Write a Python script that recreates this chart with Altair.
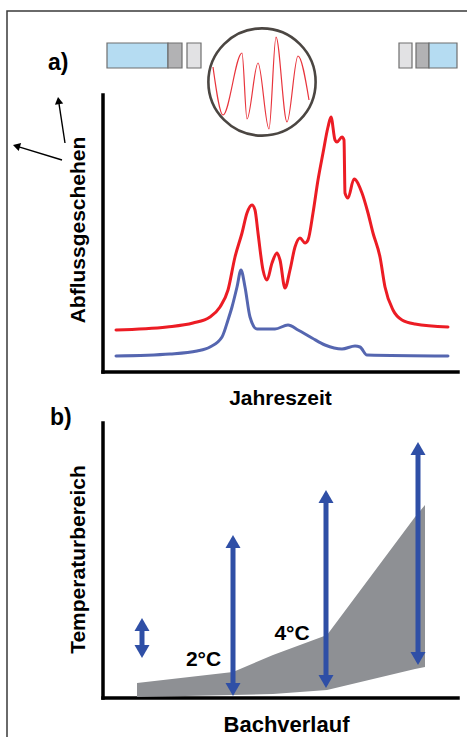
import altair as alt
import pandas as pd

# ---------------- data: panel a) Abflussgeschehen über die Jahreszeit ----------------
red_t = [13, 64, 90, 107, 117, 125, 132, 139, 144, 149, 152, 155, 160, 164, 169, 174, 177, 182,
         187, 192, 197, 202, 205, 210, 215, 220, 225, 228, 232, 234, 239, 241, 242, 245, 251, 259,
         265, 270, 277, 282, 290, 299, 312, 345]
red_q = [42, 45, 49, 55, 65, 82, 115, 139, 159, 167, 162, 139, 102, 92, 109, 119, 112, 84,
         102, 125, 134, 129, 132, 159, 192, 219, 245, 255, 232, 230, 235, 232, 179, 174, 193, 179,
         159, 139, 115, 85, 62, 52, 48, 45]
blue_t = [13, 67, 94, 107, 119, 125, 129, 134, 138, 142, 147, 154, 172, 185, 195, 209, 222, 239,
          252, 257, 264, 345]
blue_q = [16, 18, 21, 25, 35, 52, 65, 85, 102, 85, 55, 43, 43, 47, 42, 34, 27, 23,
          26, 25, 17, 16]
# short-term fluctuation shown in the magnifier circle
osc_t = [110, 120, 139, 144, 155, 166, 173, 184, 195, 206]
osc_q = [305, 257, 319, 253, 309, 243, 335, 250, 316, 272]
# schematic channel cross-sections (start / end of the year)
box_x0 = [4, 65, 84, 296, 313, 326]
box_x1 = [65, 79, 98, 309, 326, 354]
box_kind = ["Wasser", "Ufer", "Rand", "Rand", "Ufer", "Wasser"]
box_lo = [304] * 6
box_hi = [329] * 6
# pointer arrows near the y-axis title
arw_tail_t = [-38, -41]
arw_tail_q = [229, 212]
arw_tip_t = [-45, -90]
arw_tip_q = [275, 227]

# ---------------- data: panel b) Temperaturbereich entlang des Bachverlaufs ----------------
band_x = [34, 130, 170, 224, 312, 322]
band_lo = [1, 3, 4, 8, 29, 31]
band_hi = [15, 26, 43, 63, 181, 193]
span_x = [39, 130, 223, 315]
span_lo = [40, 2, 10, 33]
span_hi = [80, 163, 208, 256]
deg_text = ["2°C", "4°C"]
deg_x = [100.5, 189]
deg_y = [32, 58]

RED = "#ec1c24"
BLUE_LINE = "#5566b0"
ARROW_BLUE = "#2f4fa6"
GRAY = "#8e9094"
FONT = "Liberation Sans"

X = alt.Scale(domain=[0, 355], range=[103, 458], nice=False, zero=False)
YA = alt.Scale(domain=[0, 277], range=[372, 95], nice=False, zero=False)
YB = alt.Scale(domain=[0, 275], range=[698, 423], nice=False, zero=False)


def xq(f):
    return alt.X(f, type="quantitative", scale=X, axis=None)


def yq(f, s):
    return alt.Y(f, type="quantitative", scale=s, axis=None)


# ---------------- panel a ----------------
frame = alt.Chart(pd.DataFrame({"x0": [-96], "x1": [420], "y0": [361], "y1": [-420]})).mark_rect(
    fillOpacity=0, stroke="#3a3a3a", strokeWidth=1.5
).encode(x=xq("x0"), x2="x1:Q", y=yq("y0", YA), y2="y1:Q")

axesA = alt.Chart(pd.DataFrame({"x0": [0, 0], "x1": [0, 355], "y0": [0, 0], "y1": [277, 0]})).mark_rule(
    color="black", strokeWidth=3.5, strokeCap="square"
).encode(x=xq("x0"), x2="x1:Q", y=yq("y0", YA), y2="y1:Q")

blue = alt.Chart(pd.DataFrame({"t": blue_t, "q": blue_q})).mark_line(
    color=BLUE_LINE, strokeWidth=3, interpolate="monotone", strokeCap="round"
).encode(x=xq("t"), y=yq("q", YA))

red = alt.Chart(pd.DataFrame({"t": red_t, "q": red_q})).mark_line(
    color=RED, strokeWidth=3, interpolate="monotone", strokeCap="round"
).encode(x=xq("t"), y=yq("q", YA))

osc = alt.Chart(pd.DataFrame({"t": osc_t, "q": osc_q})).mark_line(
    color="#e8343c", strokeWidth=1.2, interpolate="monotone"
).encode(x=xq("t"), y=yq("q", YA))

lens = alt.Chart(pd.DataFrame({"t": [159], "q": [290]})).mark_point(
    shape="circle", size=11500, filled=False, stroke="#4b4642", strokeWidth=2.6, opacity=1
).encode(x=xq("t"), y=yq("q", YA))

boxes = alt.Chart(pd.DataFrame({"x0": box_x0, "x1": box_x1, "lo": box_lo, "hi": box_hi, "k": box_kind})).mark_rect(
    stroke="#6e6e6e", strokeWidth=1.2
).encode(
    x=xq("x0"), x2="x1:Q", y=yq("lo", YA), y2="hi:Q",
    color=alt.Color("k:N", scale=alt.Scale(domain=["Wasser", "Ufer", "Rand"],
                                            range=["#b5dcf2", "#b2b2b4", "#e2e2e4"]), legend=None),
)

arw = pd.DataFrame({"tx": arw_tail_t, "tq": arw_tail_q, "px": arw_tip_t, "pq": arw_tip_q})
arw_calc = dict(
    L="sqrt(pow(datum.px - datum.tx, 2) + pow(datum.pq - datum.tq, 2))",
)
shaftA = alt.Chart(arw).transform_calculate(**arw_calc).transform_calculate(
    hx="datum.px - 3.6 * (datum.px - datum.tx) / datum.L",
    hq="datum.pq - 3.6 * (datum.pq - datum.tq) / datum.L",
).mark_rule(color="black", strokeWidth=1.4).encode(
    x=xq("tx"), x2="hx:Q", y=yq("tq", YA), y2="hq:Q")
headA = alt.Chart(arw).transform_calculate(**arw_calc).transform_calculate(
    hx="datum.px - 3.6 * (datum.px - datum.tx) / datum.L",
    hq="datum.pq - 3.6 * (datum.pq - datum.tq) / datum.L",
    ang="(atan2(datum.px - datum.tx, datum.pq - datum.tq) * 180 / PI + 360) % 360",
).mark_point(shape="triangle-up", size=70, filled=True, color="black", opacity=1).encode(
    x=xq("hx"), y=yq("hq", YA), angle=alt.Angle("ang:Q", scale=None))

titleA_y = alt.Chart(pd.DataFrame({"s": ["Abflussgeschehen"], "x": [-18], "y": [142]})).mark_text(
    angle=270, align="center", baseline="alphabetic", font=FONT, fontSize=21, fontWeight="bold", color="black"
).encode(x=xq("x"), y=yq("y", YA), text="s:N")
titleA_x = alt.Chart(pd.DataFrame({"s": ["Jahreszeit"], "x": [177.5], "y": [-33]})).mark_text(
    align="center", baseline="alphabetic", font=FONT, fontSize=21, fontWeight="bold", color="black"
).encode(x=xq("x"), y=yq("y", YA), text="s:N")
tagA = alt.Chart(pd.DataFrame({"s": ["a)"], "x": [-55], "y": [302]})).mark_text(
    align="left", baseline="alphabetic", font=FONT, fontSize=23, fontWeight="bold", color="black"
).encode(x=xq("x"), y=yq("y", YA), text="s:N")

panelA = alt.layer(frame, axesA, blue, red, osc, lens, boxes, shaftA, headA, titleA_y, titleA_x, tagA)

# ---------------- panel b ----------------
axesB = alt.Chart(pd.DataFrame({"x0": [0, 0], "x1": [0, 355], "y0": [0, 0], "y1": [275, 0]})).mark_rule(
    color="black", strokeWidth=3.5, strokeCap="square"
).encode(x=xq("x0"), x2="x1:Q", y=yq("y0", YB), y2="y1:Q")

band = alt.Chart(pd.DataFrame({"x": band_x, "lo": band_lo, "hi": band_hi})).mark_area(
    color=GRAY, opacity=1, interpolate="linear"
).encode(x=xq("x"), y=yq("lo", YB), y2="hi:Q")

spans = pd.DataFrame({"x": span_x, "lo": span_lo, "hi": span_hi})
shaftB = alt.Chart(spans).transform_calculate(s0="datum.lo + 7", s1="datum.hi - 7").mark_rule(
    color=ARROW_BLUE, strokeWidth=5
).encode(x=xq("x"), y=yq("s0", YB), y2="s1:Q")
upB = alt.Chart(spans).mark_point(
    shape="triangle-up", size=225, filled=True, color=ARROW_BLUE, opacity=1, yOffset=6.5
).encode(x=xq("x"), y=yq("hi", YB))
downB = alt.Chart(spans).mark_point(
    shape="triangle-down", size=225, filled=True, color=ARROW_BLUE, opacity=1, yOffset=-6.5
).encode(x=xq("x"), y=yq("lo", YB))

degs = alt.Chart(pd.DataFrame({"s": deg_text, "x": deg_x, "y": deg_y})).mark_text(
    align="center", baseline="alphabetic", font=FONT, fontSize=21, fontWeight="bold", color="black"
).encode(x=xq("x"), y=yq("y", YB), text="s:N")

titleB_y = alt.Chart(pd.DataFrame({"s": ["Temperaturbereich"], "x": [-18], "y": [138.5]})).mark_text(
    angle=270, align="center", baseline="alphabetic", font=FONT, fontSize=21, fontWeight="bold", color="black"
).encode(x=xq("x"), y=yq("y", YB), text="s:N")
titleB_x = alt.Chart(pd.DataFrame({"s": ["Bachverlauf"], "x": [183.5], "y": [-34]})).mark_text(
    align="center", baseline="alphabetic", font=FONT, fontSize=22, fontWeight="bold", color="black"
).encode(x=xq("x"), y=yq("y", YB), text="s:N")
tagB = alt.Chart(pd.DataFrame({"s": ["b)"], "x": [-53], "y": [273]})).mark_text(
    align="left", baseline="alphabetic", font=FONT, fontSize=23, fontWeight="bold", color="black"
).encode(x=xq("x"), y=yq("y", YB), text="s:N")

panelB = alt.layer(axesB, band, shaftB, upB, downB, degs, titleB_y, titleB_x, tagB)

chart = alt.layer(panelA, panelB).resolve_scale(y="independent").properties(
    width=467, height=737, autosize=alt.AutoSizeParams(type="none"), padding=0, background="white"
).configure_view(stroke=None)

chart.save("out.html", embed_options={"renderer": "svg", "actions": False})
